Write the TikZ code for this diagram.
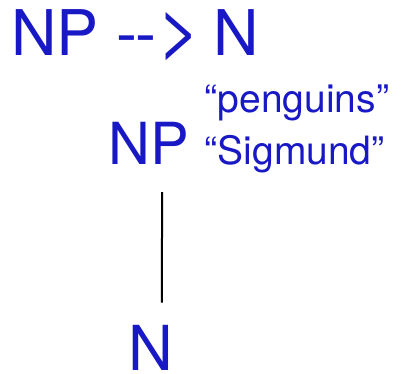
\documentclass[tikz,border=0pt]{standalone}
\usepackage{fontspec}
\newfontfamily\heros{TeX Gyre Heros}
\usetikzlibrary{positioning}
\definecolor{rulblue}{RGB}{24,24,196}

\begin{document}
\begin{tikzpicture}[x=1pt,y=1pt,
  cat/.style={inner sep=0pt,anchor=base west,text=rulblue,font=\heros\fontsize{#1}{#1}\selectfont},
  word/.style={inner sep=0pt,anchor=base west,text=rulblue,font=\heros\fontsize{39}{39}\selectfont},
  branch/.style={line width=2pt,black}
]
  \useasboundingbox (0,0) rectangle (402,374);

  % the rule written out
  \node[cat=63] (rule) at (11,318) {NP -\kern-2pt-\kern1pt\scalebox{1.2}{>}\kern-5pt{} N};

  % the little tree with its words
  \node[cat=58] (np) at (108.6,209) {NP};
  \node[word,base right=15pt of np] (sigmund) {“Sigmund”};
  \node[word] (penguins) at (sigmund.base west |- 0,261) {“penguins”};
  \node[cat=62] (n) at (128.3,3) {N};

  \draw[branch] ([shift={(13,-27)}]np.south) -- ([shift={(11,23)}]n.north);
\end{tikzpicture}
\end{document}
